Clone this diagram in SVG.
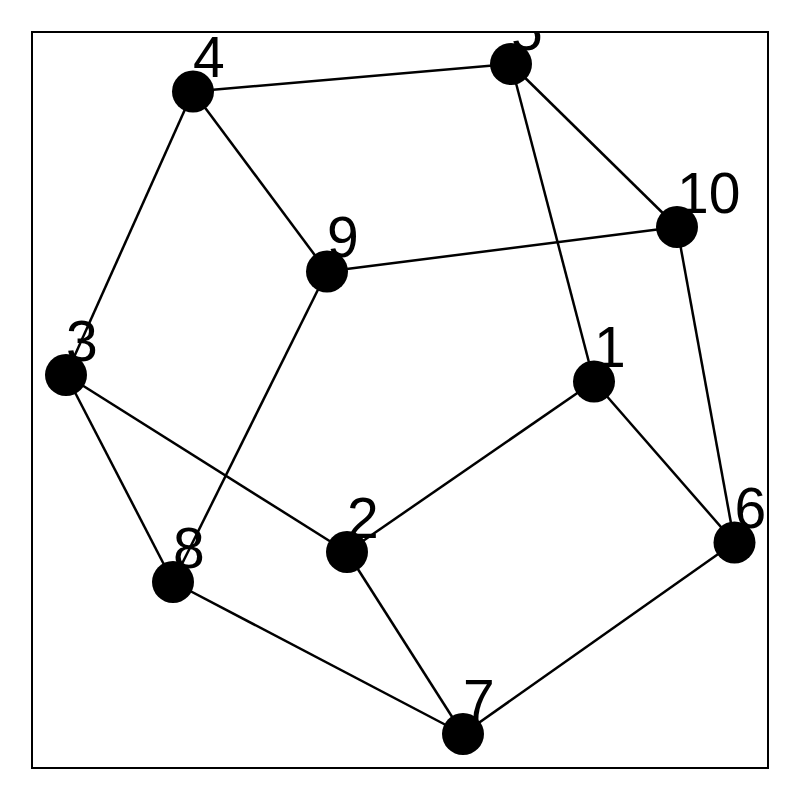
<svg xmlns="http://www.w3.org/2000/svg" width="800" height="800" viewBox="0 0 800 800">
<style>
.edge{stroke:#000;stroke-width:2.5;fill:none}
.node circle{fill:#000}
.node text{font-family:"Liberation Sans",Arial,sans-serif;font-size:57px;fill:#000}
</style>
<defs><clipPath id="frame"><rect x="32" y="32" width="736" height="736"/></clipPath></defs>
<rect x="0" y="0" width="800" height="800" fill="#fff"/>
<g clip-path="url(#frame)">
<g id="connectors">
<line class="edge" x1="193" y1="91.5" x2="511" y2="64"/>
<line class="edge" x1="193" y1="91.5" x2="327" y2="271.5"/>
<line class="edge" x1="193" y1="91.5" x2="66" y2="375"/>
<line class="edge" x1="511" y1="64" x2="677" y2="227"/>
<line class="edge" x1="511" y1="64" x2="594" y2="381.5"/>
<line class="edge" x1="327" y1="271.5" x2="677" y2="227"/>
<line class="edge" x1="327" y1="271.5" x2="173" y2="582"/>
<line class="edge" x1="66" y1="375" x2="347" y2="552"/>
<line class="edge" x1="66" y1="375" x2="173" y2="582"/>
<line class="edge" x1="594" y1="381.5" x2="347" y2="552"/>
<line class="edge" x1="594" y1="381.5" x2="734.5" y2="542.5"/>
<line class="edge" x1="677" y1="227" x2="734.5" y2="542.5"/>
<line class="edge" x1="347" y1="552" x2="463" y2="734"/>
<line class="edge" x1="173" y1="582" x2="463" y2="734"/>
<line class="edge" x1="463" y1="734" x2="734.5" y2="542.5"/>
</g>
<g id="node1" class="node"><text x="594" y="367">1</text><circle cx="594" cy="381.5" r="21"/></g>
<g id="node2" class="node"><text x="347" y="537.5">2</text><circle cx="347" cy="552" r="21"/></g>
<g id="node3" class="node"><text x="66" y="360.5">3</text><circle cx="66" cy="375" r="21"/></g>
<g id="node4" class="node"><text x="193" y="77">4</text><circle cx="193" cy="91.5" r="21"/></g>
<g id="node5" class="node"><text x="511" y="49.5">5</text><circle cx="511" cy="64" r="21"/></g>
<g id="node6" class="node"><text x="734.5" y="528">6</text><circle cx="734.5" cy="542.5" r="21"/></g>
<g id="node7" class="node"><text x="463" y="719.5">7</text><circle cx="463" cy="734" r="21"/></g>
<g id="node8" class="node"><text x="173" y="567.5">8</text><circle cx="173" cy="582" r="21"/></g>
<g id="node9" class="node"><text x="327" y="257">9</text><circle cx="327" cy="271.5" r="21"/></g>
<g id="node10" class="node"><text x="677" y="212.5">10</text><circle cx="677" cy="227" r="21"/></g>
</g>
<rect x="32" y="32" width="736" height="736" fill="none" stroke="#000" stroke-width="2"/>
</svg>
